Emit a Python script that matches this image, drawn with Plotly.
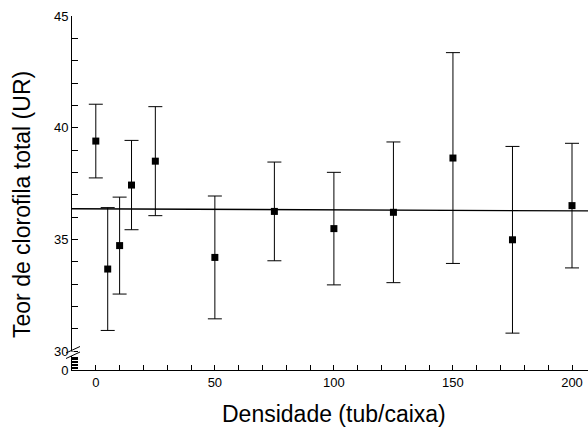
import plotly.graph_objects as go

# Data
densidade = [0, 5, 10, 15, 25, 50, 75, 100, 125, 150, 175, 200]
clorofila = [39.40, 33.67, 34.72, 37.43, 38.50, 34.19, 36.25, 35.48, 36.21, 38.64, 34.98, 36.51]
erro = [1.65, 2.75, 2.17, 2.00, 2.44, 2.75, 2.21, 2.52, 3.15, 4.72, 4.18, 2.79]
fit_x = [-10, 210]
fit_y = [36.37, 36.27]

# Tick labels
x_ticks = list(range(0, 201, 10))
x_ticklabels = [str(v) if v % 50 == 0 else "" for v in x_ticks]
y_ticks = list(range(30, 46))
y_ticklabels = [str(v) if v % 5 == 0 else "" for v in y_ticks]
low_ticks = list(range(0, 10))            # lower (broken) segment: 0 ... 9
low_ticklabels = ["0"] + [""] * 9

W, H = 588, 427
L, R, T, B = 72, 0, 16, 57
PW, PH = W - L - R, H - T - B

# y axis: 45 at top of plot, 30 at 19 px above the bottom (the break)
unit_px = (PH - 19) / 15.0
y_min = 30 - 19 / unit_px
# lower segment (0..9) compressed into the 13 px above the x axis
low_k = (13 / unit_px) / 9
low_vals = [y_min + v * low_k for v in low_ticks]

def px(xp):
    return (xp - L) / PW

def py(yp):
    return (H - B - yp) / PH

FONT = "Liberation Sans, Arial, sans-serif"

fig = go.Figure()
fig.add_trace(go.Scatter(
    x=fit_x, y=fit_y, mode="lines",
    line=dict(color="black", width=1.3), showlegend=False))
fig.add_trace(go.Scatter(
    x=densidade, y=clorofila, mode="markers",
    marker=dict(symbol="square", size=7, color="black"),
    error_y=dict(type="data", array=erro, visible=True, color="black", thickness=1, width=7),
    showlegend=False))

fig.update_layout(
    width=W, height=H,
    margin=dict(l=L, r=R, t=T, b=B),
    paper_bgcolor="white", plot_bgcolor="white",
    font=dict(family=FONT, size=13, color="black"),
    xaxis=dict(
        range=[-10, -10 + PW / 500 * 210],
        showline=True, linecolor="black", linewidth=1,
        showgrid=False, zeroline=False,
        tickmode="array", tickvals=x_ticks, ticktext=x_ticklabels,
        ticks="inside", ticklen=5, tickwidth=1, tickcolor="black",
        tickfont=dict(size=13, family=FONT, color="black"),
    ),
    yaxis=dict(
        range=[y_min, 45],
        showline=True, linecolor="black", linewidth=1,
        showgrid=False, zeroline=False,
        tickmode="array", tickvals=y_ticks + low_vals, ticktext=y_ticklabels + low_ticklabels,
        ticks="inside", ticklen=6, tickwidth=1, tickcolor="black",
        tickfont=dict(size=13, family=FONT, color="black"),
    ),
    shapes=[
        # gap in the y axis line at the break
        dict(type="line", xref="paper", yref="paper", layer="above",
             x0=px(72), y0=py(351.5), x1=px(72), y1=py(356),
             line=dict(color="white", width=4)),
        dict(type="line", xref="paper", yref="paper", layer="above",
             x0=px(66), y0=py(353), x1=px(80), y1=py(346.5),
             line=dict(color="black", width=1)),
        dict(type="line", xref="paper", yref="paper", layer="above",
             x0=px(66), y0=py(358.5), x1=px(80), y1=py(352),
             line=dict(color="black", width=1)),
    ],
    annotations=[
        dict(text="Teor de clorofila total (UR)", xref="paper", yref="paper",
             x=px(22), y=py(205), xanchor="center", yanchor="middle", textangle=-90,
             showarrow=False, font=dict(size=23, family=FONT, color="black")),
        dict(text="Densidade (tub/caixa)", xref="paper", yref="paper",
             x=px(334), y=py(414), xanchor="center", yanchor="middle",
             showarrow=False, font=dict(size=23, family=FONT, color="black")),
    ],
)

fig.write_html("out.html")
